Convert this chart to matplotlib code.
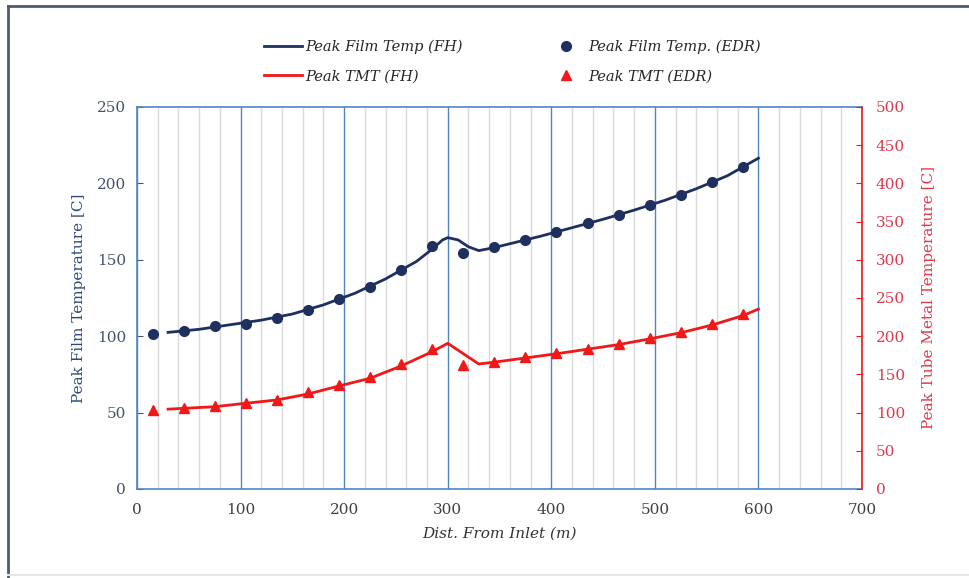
import numpy as np
import matplotlib
matplotlib.use('Agg')
import matplotlib.pyplot as plt
from matplotlib.ticker import MultipleLocator
from matplotlib.lines import Line2D

plt.rcParams['font.family'] = ['DejaVu Serif']

# data
fh_film_x = [30, 60, 90, 120, 150, 180, 210, 240, 270, 285, 295, 300, 310, 320, 330,
             345, 360, 390, 420, 450, 480, 510, 540, 570, 600]
fh_film_y = [102.5, 104.5, 107.5, 110.5, 114.5, 120.5, 128, 137.5, 149, 157, 163, 164.5,
             163, 158.5, 156, 158, 160.5, 165.5, 171, 176.5, 182.5, 189, 196.5, 205, 216.5]

edr_x = [15, 45, 75, 105, 135, 165, 195, 225, 255, 285, 315, 345, 375, 405, 435, 465,
         495, 525, 555, 585]
edr_film_y = [101.5, 103.5, 106.5, 108.2, 112, 117.3, 124.2, 132.4, 143.5, 158.8, 154.5,
              158.6, 163, 168, 174, 179, 185.7, 192.6, 200.7, 210.9]
edr_tmt_y = [103.5, 106.5, 109, 113, 116.5, 127, 135.7, 146.2, 163.2, 182.9, 162,
             165.8, 172.4, 177.6, 183.6, 189.8, 197.2, 205.1, 216, 229]

fh_tmt_x = [30, 75, 105, 135, 165, 195, 225, 255, 285, 300, 330, 345, 375, 405, 435,
            465, 495, 525, 555, 585, 600]
fh_tmt_y = [104.5, 107.7, 112.2, 116.5, 124.3, 134.8, 144.9, 161, 179.7, 190.7, 163.6,
            166, 171.5, 177, 183, 189, 196.5, 204.5, 214.5, 227, 235.5]

NAVY = '#1F3060'
RED = '#F01818'
AXBLUE = '#4F86C0'
RIGHT_RED = '#E0384A'

fig = plt.figure(figsize=(9.69, 5.78), dpi=100)
ax = fig.add_axes([0.1414, 0.154, 0.7482, 0.6609])
ax2 = ax.twinx()

ax.plot(fh_film_x, fh_film_y, color=NAVY, lw=2.0, label='Peak Film Temp (FH)', zorder=3)
ax2.plot(fh_tmt_x, fh_tmt_y, color=RED, lw=2.0, label='Peak TMT (FH)', zorder=3)
ax.plot(edr_x, edr_film_y, 'o', color=NAVY, ms=7, label='Peak Film Temp. (EDR)', zorder=4)
ax2.plot(edr_x, edr_tmt_y, '^', color=RED, ms=7, label='Peak TMT (EDR)', zorder=4)

ax.set_xlim(0, 700)
ax.set_ylim(0, 250)
ax2.set_ylim(0, 500)
ax.xaxis.set_major_locator(MultipleLocator(100))
ax.xaxis.set_minor_locator(MultipleLocator(20))
ax.yaxis.set_major_locator(MultipleLocator(50))
ax2.yaxis.set_major_locator(MultipleLocator(50))

# vertical grid only
ax.grid(which='minor', axis='x', color='#DADADA', lw=1.0)
ax.grid(which='major', axis='x', color=AXBLUE, lw=1.0)
ax.set_axisbelow(True)

for s in ['left', 'top', 'bottom']:
    ax.spines[s].set_color(AXBLUE)
    ax.spines[s].set_linewidth(1.2)
ax2.spines['right'].set_color(RED)
ax2.spines['right'].set_linewidth(1.2)
for s in ['left', 'top', 'bottom']:
    ax2.spines[s].set_visible(False)
ax.spines['right'].set_visible(False)

ax.tick_params(axis='x', which='both', length=0, pad=10, labelsize=11, labelcolor='#404040')
ax.tick_params(axis='y', direction='in', length=4, color='#44546A', pad=8,
               labelsize=11, labelcolor='#44546A')
ax2.tick_params(axis='y', direction='in', length=4, color=RED, pad=10,
                labelsize=11, labelcolor=RIGHT_RED)

ax.set_xlabel('Dist. From Inlet (m)', fontsize=11, style='italic', color='#333333', labelpad=7)
ax.set_ylabel('Peak Film Temperature [C]', fontsize=11, color='#2F4A7A', labelpad=8)
ax2.set_ylabel('Peak Tube Metal Temperature [C]', fontsize=11, color=RIGHT_RED, labelpad=12)

handles = [Line2D([], [], color=NAVY, lw=2),
           Line2D([], [], color=RED, lw=2),
           Line2D([], [], marker='o', ls='', color=NAVY, ms=7),
           Line2D([], [], marker='^', ls='', color=RED, ms=7)]
labels = ['Peak Film Temp (FH)', 'Peak TMT (FH)', 'Peak Film Temp. (EDR)', 'Peak TMT (EDR)']
leg = ax.legend(handles, labels, loc='lower center', bbox_to_anchor=(0.518, 1.028), ncol=2,
                frameon=False, columnspacing=5.8, handlelength=2.6, handletextpad=0.2,
                labelspacing=1.05, prop={'style': 'italic', 'size': 10.5})
for t in leg.get_texts():
    t.set_color('#262626')

# figure border (dark on top/left)
fig.add_artist(Line2D([7.5 / 969, 7.5 / 969], [0, 1 - 5.5 / 578], transform=fig.transFigure,
                      color='#4F5B6E', lw=2))
fig.add_artist(Line2D([7.5 / 969, 1], [1 - 5.5 / 578, 1 - 5.5 / 578], transform=fig.transFigure,
                      color='#4F5B6E', lw=2))
fig.add_artist(Line2D([7.5 / 969, 1], [3.5 / 578, 3.5 / 578], transform=fig.transFigure,
                      color='#E6E6E6', lw=1.5))

fig.savefig('out.png', dpi=100)
